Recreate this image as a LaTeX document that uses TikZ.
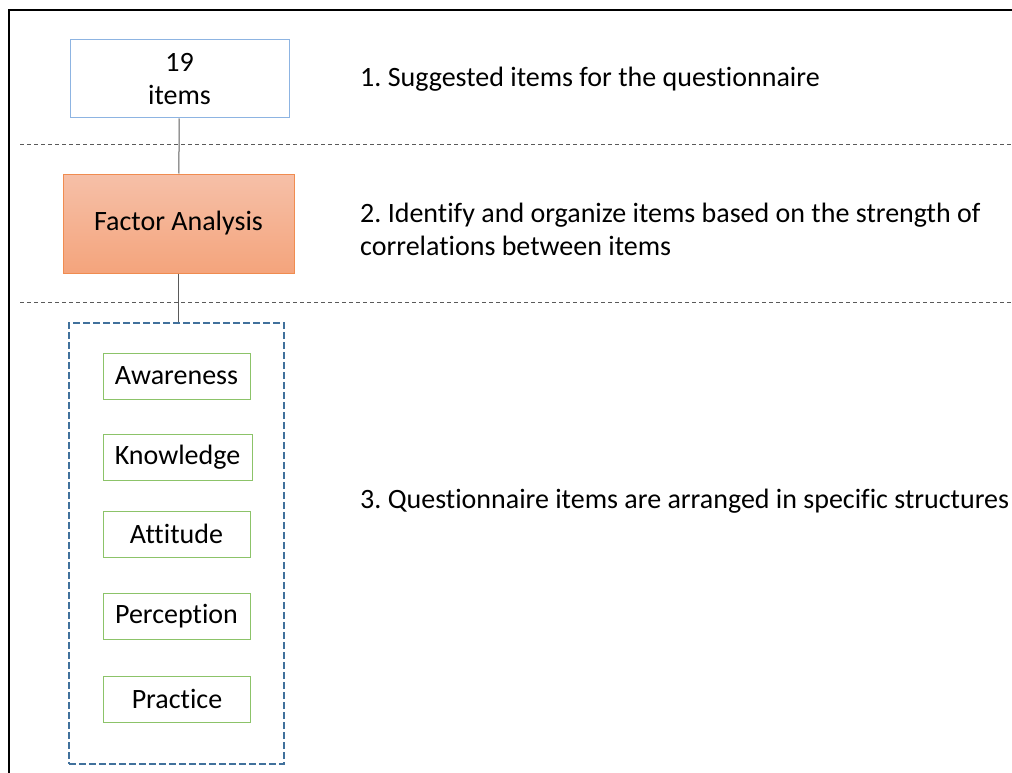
\documentclass[tikz,border=0pt]{standalone}
\usepackage{fontspec}
\setmainfont{Carlito}[Ligatures=NoCommon]
\usetikzlibrary{positioning}
\definecolor{itemblue}{RGB}{141,180,226}
\definecolor{faborder}{RGB}{240,140,80}
\definecolor{fabtop}{RGB}{246,192,168}
\definecolor{fabbottom}{RGB}{244,164,124}
\definecolor{groupblue}{RGB}{65,113,156}
\definecolor{factgreen}{RGB}{140,195,105}
\definecolor{sepgray}{RGB}{90,90,90}
\frenchspacing
\begin{document}
\begin{tikzpicture}[x=1pt, y=-1pt, font=\fontsize{28}{33}\selectfont,
    main/.style = {draw, inner sep=0pt, align=center},
    factor/.style = {main, draw=factgreen, line width=1pt, minimum width=147pt, minimum height=46pt},
    caption/.style = {anchor=west, inner sep=0pt, align=left}]
    \useasboundingbox (0,0) rectangle (1012,773);
    % frame and separators
    \draw[line width=1.5pt] (9,773) -- (9,10) -- (1012,10);
    \draw[sepgray, line width=1pt, dash pattern=on 4pt off 3pt] (20,145) -- (1012,145);
    \draw[sepgray, line width=1pt, dash pattern=on 4pt off 3pt] (20,302) -- (1012,302);
    % stages
    \node[main, draw=itemblue, line width=1pt, minimum width=219pt, minimum height=78pt] (items) at (179.5,79) {19\\items};
    \node[main, draw=faborder, line width=1pt, top color=fabtop, bottom color=fabbottom, minimum width=231pt, minimum height=99pt] (fa) at (178.5,223.5) {Factor Analysis};
    \node[draw=groupblue, line width=2pt, dash pattern=on 7pt off 3pt, minimum width=215pt, minimum height=441pt, inner sep=0pt] (group) at (176.5,543.5) {};
    \node[factor] (aware) at (176.5,376) {Awareness};
    \node[factor, minimum width=149pt] (know) at (177.5,457) {Knowledge};
    \node[factor] (att) at (176.5,534) {Attitude};
    \node[factor] (perc) at (176.5,616.5) {Perception};
    \node[factor] (prac) at (177,699) {Practice};
    \draw[sepgray, line width=1pt] (items) -- (fa);
    \draw[sepgray, line width=1pt] (fa) -- (fa |- group.north);
    % descriptions
    \node[caption] (d1) at (360,79) {1. Suggested items for the questionnaire};
    \node[caption] (d2) at (360,229.5) {2. Identify and organize items based on the strength of\\correlations between items};
    \node[caption] (d3) at (360,501) {3. Questionnaire items are arranged in specific structures};
\end{tikzpicture}
\end{document}
